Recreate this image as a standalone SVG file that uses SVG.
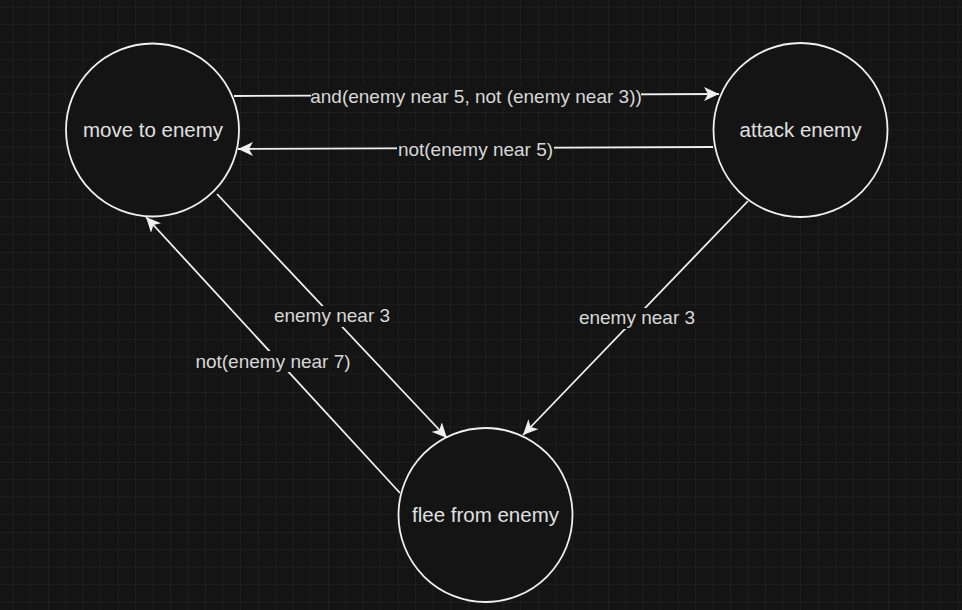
<svg xmlns="http://www.w3.org/2000/svg" width="962" height="610" viewBox="0 0 962 610">
<defs>
<style>
.node circle{fill:#141414;stroke:#f0f0f0;stroke-width:1.8}
.ntext{font-family:"Liberation Sans",Arial,sans-serif;font-size:20.5px;fill:#e0e0e0;text-anchor:middle}
.edge{stroke:#f0f0f0;stroke-width:1.8;fill:none;marker-end:url(#arr)}
.lbl{font-family:"Liberation Sans",Arial,sans-serif;font-size:19px;fill:#d8d8d8;text-anchor:middle}
.lbg{fill:#141414}
</style>
<pattern id="grid" patternUnits="userSpaceOnUse" x="48" y="42" width="70" height="70">
<path d="M17.5 0V70M35 0V70M52.5 0V70M0 17.5H70M0 35H70M0 52.5H70" stroke="#1d1d1d" stroke-width="1" fill="none"/>
<path d="M0 0V70M0 0H70" stroke="#292929" stroke-width="1" fill="none"/>
</pattern>
<marker id="arr" markerUnits="userSpaceOnUse" markerWidth="16" markerHeight="14" viewBox="0 0 16 14" refX="15" refY="7" orient="auto">
<path d="M0 0L15 7L0 14L4 7Z" fill="#f0f0f0"/>
</marker>
</defs>
<rect width="962" height="610" fill="#141414"/>
<rect width="962" height="610" fill="url(#grid)"/>
<g id="edges">
<line class="edge" x1="234" y1="96" x2="719" y2="94"/>
<line class="edge" x1="713" y1="147" x2="238" y2="149"/>
<line class="edge" x1="217" y1="194" x2="447" y2="438"/>
<line class="edge" x1="748" y1="201" x2="523" y2="435"/>
<line class="edge" x1="400" y1="493" x2="146" y2="217"/>
<rect class="lbg" x="311" y="86" width="330" height="21"/>
<text class="lbl" x="476" y="102.5">and(enemy near 5, not (enemy near 3))</text>
<rect class="lbg" x="397" y="139" width="157" height="21"/>
<text class="lbl" x="475.5" y="155.5">not(enemy near 5)</text>
<rect class="lbg" x="273" y="306" width="118" height="21"/>
<text class="lbl" x="332" y="322">enemy near 3</text>
<rect class="lbg" x="578" y="308" width="118" height="21"/>
<text class="lbl" x="637" y="324">enemy near 3</text>
<rect class="lbg" x="194" y="351" width="158" height="21"/>
<text class="lbl" x="273" y="367.5">not(enemy near 7)</text>
</g>
<g id="move" class="node">
<circle cx="152.5" cy="130" r="86.5"/>
<text class="ntext" x="153" y="137">move to enemy</text>
</g>
<g id="attack" class="node">
<circle cx="800.5" cy="130" r="87"/>
<text class="ntext" x="800.5" y="137">attack enemy</text>
</g>
<g id="flee" class="node">
<circle cx="485.5" cy="515" r="87"/>
<text class="ntext" x="485.5" y="522">flee from enemy</text>
</g>
</svg>
